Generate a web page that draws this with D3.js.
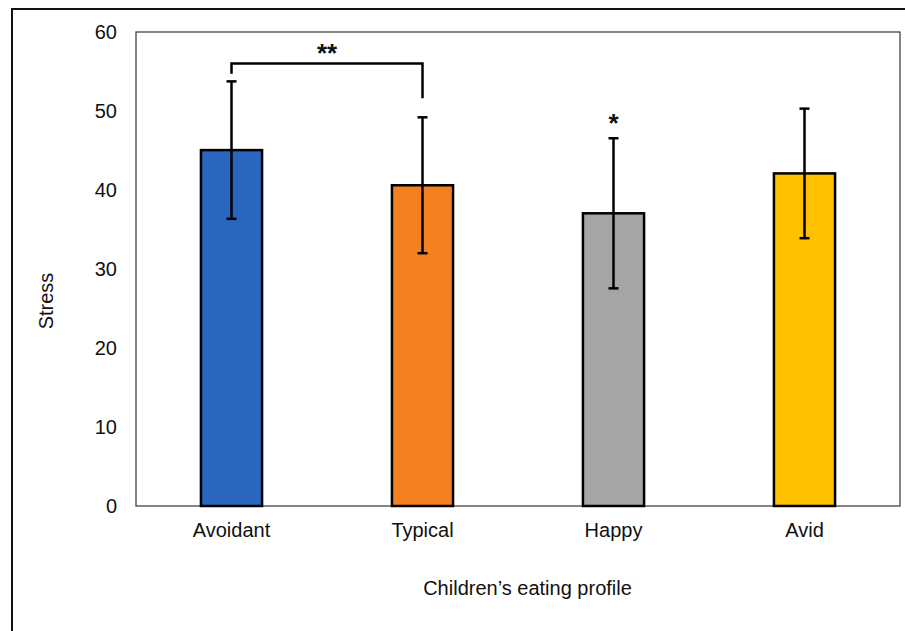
<!DOCTYPE html>
<html><head><meta charset="utf-8">
<script src="https://cdn.jsdelivr.net/npm/d3@7"></script>
<style>body{margin:0;background:#fff}svg{display:block;font-family:"Liberation Sans",Arial,sans-serif}</style>
</head><body><svg id="c" width="905" height="631"></svg>
<script>
const categories = ["Avoidant","Typical","Happy","Avid"];
const means = [45.05, 40.6, 37.05, 42.1];
const errors = [8.7, 8.6, 9.5, 8.2];
const colors = ["#2A66BE","#F58020","#A5A5A5","#FFC000"];
const yTicks = [0,10,20,30,40,50,60];
const singleStars = ["", "", "*", ""];

const svg = d3.select("#c");
const m = {left:136, top:32, right:900, bottom:506};
const x = d3.scaleBand().domain(categories).range([m.left, m.right]).paddingInner(0.68).paddingOuter(0.34);
const y = d3.scaleLinear().domain([0,60]).range([m.bottom, m.top]);
const FS = 20;

// outer frame (partially cropped)
svg.append("rect").attr("x",12).attr("y",9).attr("width",1000).attr("height",1000)
  .attr("fill","none").attr("stroke","#111").attr("stroke-width",2);

// plot area border
svg.append("rect").attr("x",m.left).attr("y",m.top).attr("width",m.right-m.left).attr("height",m.bottom-m.top)
  .attr("fill","none").attr("stroke","#444").attr("stroke-width",1.3);

// y axis
const yAxis = svg.append("g").attr("transform",`translate(${m.left},0)`)
  .call(d3.axisLeft(y).tickValues(yTicks).tickSize(0).tickPadding(19));
yAxis.select(".domain").remove();
yAxis.selectAll("text").attr("font-size",FS).attr("fill","#111").attr("font-family","Liberation Sans, Arial, sans-serif");

// x axis
const xAxis = svg.append("g").attr("transform",`translate(0,${m.bottom})`)
  .call(d3.axisBottom(x).tickSize(0).tickPadding(17));
xAxis.select(".domain").remove();
xAxis.selectAll("text").attr("font-size",FS).attr("fill","#111").attr("font-family","Liberation Sans, Arial, sans-serif");

// bars
svg.selectAll("rect.bar").data(categories).join("rect").attr("class","bar")
  .attr("x",d=>x(d)).attr("width",x.bandwidth())
  .attr("y",(d,i)=>y(means[i])).attr("height",(d,i)=>y(0)-y(means[i]))
  .attr("fill",(d,i)=>colors[i]).attr("stroke","#000").attr("stroke-width",2.5);

// error bars
const eg = svg.append("g").attr("stroke","#000").attr("stroke-width",2.5);
categories.forEach((c,i)=>{
  const cx = x(c)+x.bandwidth()/2;
  eg.append("line").attr("x1",cx).attr("x2",cx).attr("y1",y(means[i]+errors[i])).attr("y2",y(means[i]-errors[i]));
  [means[i]+errors[i], means[i]-errors[i]].forEach(v=>{
    eg.append("line").attr("x1",cx-5).attr("x2",cx+5).attr("y1",y(v)).attr("y2",y(v));
  });
  if (singleStars[i]) {
    svg.append("text").attr("x",cx).attr("y",y(means[i]+errors[i])-6).attr("text-anchor","middle")
      .attr("font-size",26).attr("font-weight","bold").attr("fill","#111").text(singleStars[i]);
  }
});

// significance bracket Avoidant-Typical
const x1 = x("Avoidant")+x.bandwidth()/2, x2 = x("Typical")+x.bandwidth()/2;
const by = y(56);
svg.append("path").attr("d",`M${x1},${y(54.7)}V${by}H${x2}V${y(51.6)}`)
  .attr("fill","none").attr("stroke","#000").attr("stroke-width",2.5);
svg.append("text").attr("x",(x1+x2)/2).attr("y",by-2).attr("text-anchor","middle")
  .attr("font-size",26).attr("font-weight","bold").attr("fill","#111").text("**");

// axis titles
svg.append("text").attr("transform",`translate(53,301) rotate(-90)`)
  .attr("text-anchor","middle").attr("font-size",FS).attr("fill","#111").text("Stress");
svg.append("text").attr("x",527.5).attr("y",595).attr("text-anchor","middle")
  .attr("font-size",FS).attr("fill","#111").text("Children’s eating profile");
</script></body></html>
